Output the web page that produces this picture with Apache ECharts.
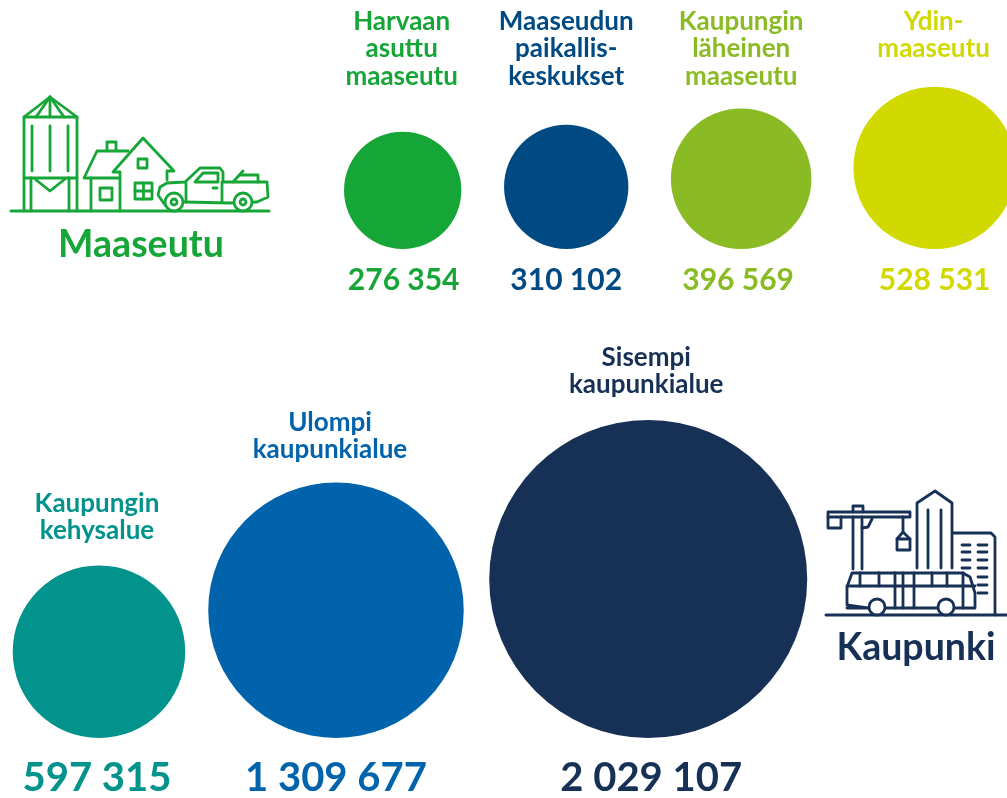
<!DOCTYPE html>
<html>
<head>
<meta charset="utf-8">
<title>Maaseutu ja kaupunki</title>
<script src="https://cdn.jsdelivr.net/npm/echarts@6/dist/echarts.min.js"></script>
<style>
  html, body { margin: 0; padding: 0; background: #fff; }
  #main { width: 1007px; height: 798px; }
</style>
</head>
<body>
<div id="main"></div>
<script>
// data
var ruralNames = ["Harvaan\nasuttu\nmaaseutu", "Maaseudun\npaikallis-\nkeskukset", "Kaupungin\nläheinen\nmaaseutu", "Ydin-\nmaaseutu"];
var ruralValues = [276354, 310102, 396569, 528531];
var urbanNames = ["Kaupungin\nkehysalue", "Ulompi\nkaupunkialue", "Sisempi\nkaupunkialue"];
var urbanValues = [597315, 1309677, 2029107];

// styles
var ruralColors = ["#16a637", "#004a84", "#8abb24", "#d2d900"];
var urbanColors = ["#01938c", "#0063ab", "#173156"];
var green = "#16a637";
var navy = "#173156";
var font = "Lato";

// pinta-ala on verrannollinen arvoon
var sizeScale = 318 / Math.sqrt(2029107);
function diameter(v) {
  return Math.sqrt(v) * sizeScale;
}
function formatNumber(v) {
  return String(v).replace(/\B(?=(\d{3})+$)/g, " ");
}

// pallot vierekkain samalla pohjaviivalla
function buildRow(values, startX, gaps, baseline) {
  var x = startX;
  return values.map(function (v, i) {
    var d = diameter(v);
    var point = [x + d / 2, baseline - d / 2, v];
    x += d + (gaps[i] || 0);
    return point;
  });
}

var ruralRow = buildRow(ruralValues, 344, [42.7, 42.5, 42], 249);
var urbanRow = buildRow(urbanValues, 12.7, [23, 25.5], 738);

function bubbleSeries(row, colors) {
  return {
    type: "scatter",
    silent: true,
    symbolSize: function (val) {
      return diameter(val[2]);
    },
    itemStyle: { opacity: 1, color: function (p) { return colors[p.dataIndex]; } },
    data: row,
  };
}

// tekstit ilman nakyvaa symbolia
function textSeries(row, colors, yFn, textFn, offsets, labelStyle) {
  return {
    type: "scatter",
    silent: true,
    symbolSize: 1,
    itemStyle: { color: "transparent", opacity: 1 },
    data: row.map(function (p, i) {
      return {
        value: [p[0], yFn(p, i), p[2]],
        label: { color: colors[i], offset: [offsets[i], 0] },
      };
    }),
    label: Object.assign(
      {
        show: true,
        position: "inside",
        fontFamily: font,
        fontWeight: "bold",
        align: "center",
        formatter: function (p) {
          return textFn(p.dataIndex);
        },
      },
      labelStyle
    ),
  };
}

// kuvakkeet
var iconWidth = 2.8;
function line(points, color, width, closed) {
  return {
    type: closed ? "polygon" : "polyline",
    silent: true,
    shape: { points: points },
    style: { fill: closed ? "#fff" : null, stroke: color, lineWidth: width || iconWidth, lineJoin: "round", lineCap: "round" },
    z: 10,
  };
}
function circle(cx, cy, r, color, width) {
  return {
    type: "circle",
    silent: true,
    shape: { cx: cx, cy: cy, r: r },
    style: { fill: "#fff", stroke: color, lineWidth: width || iconWidth },
    z: 11,
  };
}
function box(x, y, w, h, color) {
  return line([[x, y], [x + w, y], [x + w, y + h], [x, y + h]], color, iconWidth, true);
}

function farmIcon() {
  var c = green;
  var g = [];
  g.push(line([[11, 211], [269, 211]], c, 3));
  // siilo
  g.push(line([[24, 211], [24, 117], [50, 97], [77, 117], [77, 211]], c));
  g.push(line([[24, 117], [77, 117]], c));
  g.push(line([[50, 97], [50, 117]], c));
  g.push(line([[50, 97], [36, 117]], c));
  g.push(line([[50, 97], [64, 117]], c));
  g.push(line([[32, 126], [32, 171]], c));
  g.push(line([[50, 126], [50, 171]], c));
  g.push(line([[68, 126], [68, 171]], c));
  g.push(line([[24, 178], [77, 178]], c));
  g.push(line([[35, 179], [50, 191], [65, 179]], c));
  g.push(line([[31, 178], [31, 211]], c));
  g.push(line([[69, 178], [69, 211]], c));
  // talo
  g.push(line([[119, 178], [84, 178], [97, 151], [128, 151]], c));
  g.push(line([[91, 178], [91, 211]], c));
  g.push(line([[107, 150], [107, 142], [116, 142], [116, 150]], c));
  g.push(box(100, 188, 12, 12, c));
  g.push(line([[120, 211], [120, 172], [113, 172], [143, 138], [174, 171], [167, 171], [167, 180]], c));
  g.push(box(138, 159, 9, 9, c));
  g.push(box(135, 183, 17, 16, c));
  g.push(line([[143.5, 183], [143.5, 199]], c));
  g.push(line([[135, 191], [152, 191]], c));
  // auto
  g.push(line([[165, 205], [158, 195], [160, 187], [167, 183], [185, 182], [200, 168], [220, 168], [223, 172], [223, 182], [267, 182], [268, 197], [257, 202], [230, 203], [185, 202]], c));
  g.push(line([[195, 182], [203, 173], [218, 173], [218, 182]], c, iconWidth, true));
  g.push(line([[186, 183], [186, 202]], c));
  g.push(line([[222, 182], [222, 202]], c));
  g.push(line([[213, 188], [217, 188]], c));
  g.push(line([[233, 182], [243, 171]], c));
  g.push(line([[240, 175], [258, 175], [258, 182]], c));
  g.push(circle(174, 202, 9, c));
  g.push(circle(174, 202, 3, c));
  g.push(circle(243, 202, 9, c));
  g.push(circle(243, 202, 3, c));
  return g;
}

function cityIcon() {
  var c = navy;
  var g = [];
  g.push(line([[826, 615], [1007, 615]], c, 3));
  // nosturi
  g.push(line([[828, 512], [910, 512], [910, 517], [828, 517]], c, iconWidth, true));
  g.push(line([[828, 517], [828, 528], [841, 528], [841, 517]], c));
  g.push(line([[853, 512], [853, 506], [863, 506], [863, 512]], c));
  g.push(line([[853, 517], [853, 569]], c));
  g.push(line([[862, 517], [862, 569]], c));
  g.push(line([[872, 519], [868, 527], [862, 528]], c));
  g.push(line([[903, 517], [903, 533]], c));
  g.push(line([[903, 532], [897, 539], [897, 550], [910, 550], [910, 539]], c, iconWidth, true));
  g.push(line([[897, 539], [910, 539]], c));
  // tornit
  g.push(line([[917, 568], [917, 503], [935, 491], [952, 503], [952, 568]], c));
  g.push(line([[928, 510], [928, 568]], c));
  g.push(line([[941, 510], [941, 568]], c));
  g.push(line([[953, 533], [991, 533], [995, 537], [995, 615]], c));
  [545, 552, 560, 568].forEach(function (y) {
    g.push(line([[962, y], [970, y]], c));
  });
  [545, 552, 560, 568, 577, 585, 593].forEach(function (y) {
    g.push(line([[978, y], [987, y]], c));
  });
  // bussi
  g.push(line([[868, 608], [847, 605], [847, 587], [852, 573], [963, 573], [970, 577], [975, 593], [975, 608], [847, 608]], c, iconWidth, true));
  g.push(line([[847, 586], [975, 586]], c));
  [860, 879, 932, 947].forEach(function (x) {
    g.push(line([[x, 573], [x, 586]], c));
  });
  [895, 903, 914, 963].forEach(function (x) {
    g.push(line([[x, 573], [x, 608]], c));
  });
  g.push(circle(877, 607, 8, c));
  g.push(circle(946, 607, 8, c));
  return g;
}

function title(text, x, y, color) {
  return {
    type: "text",
    silent: true,
    x: x,
    y: y,
    style: {
      text: text,
      fill: color,
      font: "bold 37.5px " + font,
      align: "center",
      verticalAlign: "middle",
    },
  };
}

var myChart = echarts.init(document.getElementById("main"));

var nameGapUrban = [48, 46, 49];

var option = {
  animation: false,
  backgroundColor: "#fff",
  grid: { left: 0, right: 0, top: 0, bottom: 0 },
  xAxis: { type: "value", min: 0, max: 1007, show: false },
  yAxis: { type: "value", min: 0, max: 798, inverse: true, show: false },
  series: [
    bubbleSeries(ruralRow, ruralColors),
    bubbleSeries(urbanRow, urbanColors),
    textSeries(
      ruralRow,
      ruralColors,
      function (p, i) {
        return i === 3 ? 35 : 49;
      },
      function (i) {
        return ruralNames[i];
      },
      [-1, 0, 0, -1],
      { fontSize: 26, lineHeight: 27.5 }
    ),
    textSeries(
      urbanRow,
      urbanColors,
      function (p, i) {
        return p[1] - diameter(p[2]) / 2 - nameGapUrban[i];
      },
      function (i) {
        return urbanNames[i];
      },
      [-2, -6, -2],
      { fontSize: 26, lineHeight: 27 }
    ),
    textSeries(
      ruralRow,
      ruralColors,
      function () {
        return 280;
      },
      function (i) {
        return formatNumber(ruralValues[i]);
      },
      [1, 0, -3, 0],
      { fontSize: 30 }
    ),
    textSeries(
      urbanRow,
      urbanColors,
      function () {
        return 778;
      },
      function (i) {
        return formatNumber(urbanValues[i]);
      },
      [-2, 0, 3],
      { fontSize: 40 }
    ),
  ],
  graphic: [
    title("Maaseutu", 141, 245, green),
    title("Kaupunki", 916, 648, navy),
  ]
    .concat(farmIcon())
    .concat(cityIcon()),
};

myChart.setOption(option);
</script>
</body>
</html>
